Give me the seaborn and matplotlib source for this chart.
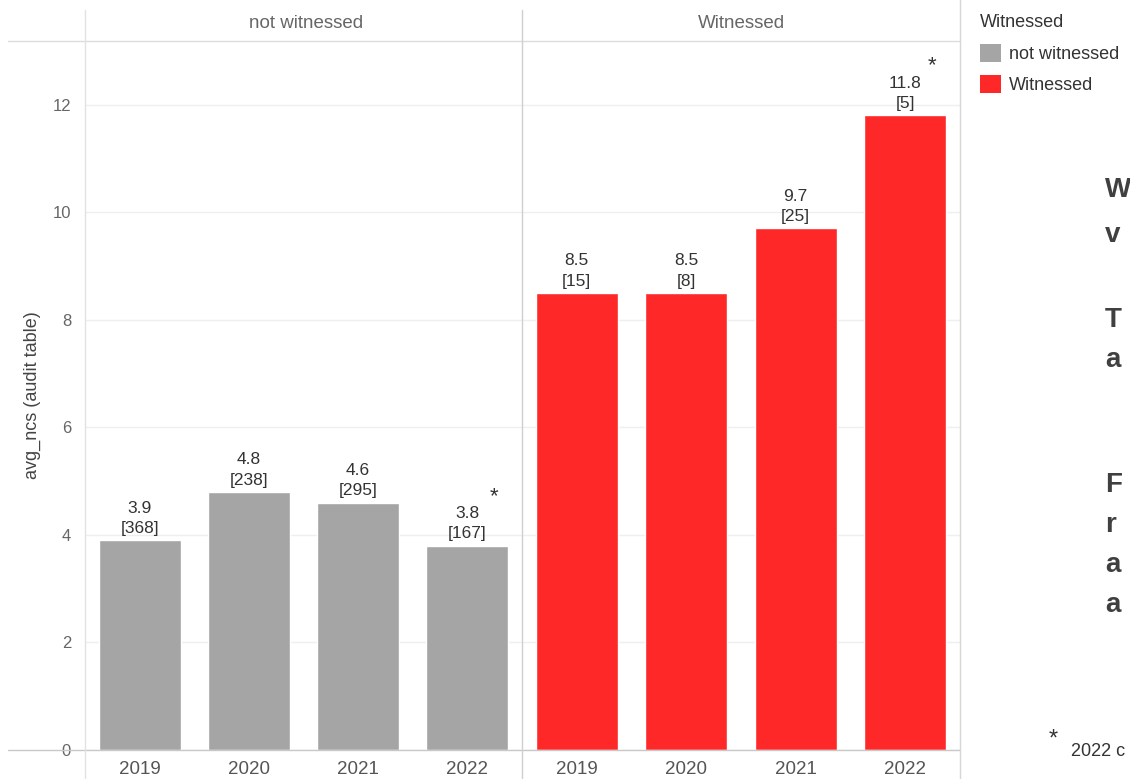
"""Average NCS per audit by year, split by witnessed / not witnessed."""

import matplotlib.pyplot as plt
import pandas as pd
import seaborn as sns
from matplotlib.lines import Line2D
from matplotlib.patches import Patch

years = ["2019", "2020", "2021", "2022"]
groups = ["not witnessed", "Witnessed"]
avg_not_witnessed = [3.9, 4.8, 4.6, 3.8]
avg_witnessed = [8.5, 8.5, 9.7, 11.8]
n_not_witnessed = [368, 238, 295, 167]
n_witnessed = [15, 8, 25, 5]
notes = ["", "", "", "*"]
side_letters = ["W", "v", "T", "a", "F", "r", "a", "a"]

GREY = "#a5a5a5"
RED = "#fe2828"
W, H = 1130, 779


def fx(x):
    return x / W


def fy(y):
    return 1 - y / H


def main() -> None:
    sns.set_theme(style="white")
    plt.rcParams["font.family"] = ["Liberation Sans", "DejaVu Sans"]

    df = pd.DataFrame({
        "year": years * 2,
        "group": [groups[0]] * 4 + [groups[1]] * 4,
        "avg_ncs": avg_not_witnessed + avg_witnessed,
        "n": n_not_witnessed + n_witnessed,
        "note": notes * 2,
    })
    palette = {groups[0]: GREY, groups[1]: RED}

    fig = plt.figure(figsize=(W / 100, H / 100), dpi=100)
    bottom, height = fy(750), (750 - 40) / H
    ax1 = fig.add_axes([fx(85), bottom, fx(437), height])
    ax2 = fig.add_axes([fx(522), bottom, fx(438), height], sharey=ax1)

    for ax, grp in zip([ax1, ax2], groups):
        sub = df[df["group"] == grp].reset_index(drop=True)
        sns.barplot(data=sub, x="year", y="avg_ncs", hue="group", palette=palette,
                    width=0.75, ax=ax, legend=False, saturation=1)
        ax.set_xlim(-0.5, 3.5)
        ax.set_ylim(0, 13.2)
        ax.set_yticks([0, 2, 4, 6, 8, 10, 12])
        ax.yaxis.grid(True, color="#efefef", linewidth=1)
        ax.set_axisbelow(True)
        for s in ax.spines.values():
            s.set_visible(False)
        ax.set_xlabel("")
        ax.set_ylabel("")
        ax.tick_params(axis="x", length=0, pad=8, labelsize=13.5, labelcolor="#555555")

        for bar, (_, row) in zip(ax.patches, sub.iterrows()):
            cx = bar.get_x() + bar.get_width() / 2
            top = bar.get_height()
            ax.annotate(f"{row['avg_ncs']:.1f}\n[{row['n']}]", (cx, top),
                        xytext=(0, 3), textcoords="offset points", ha="center",
                        va="bottom", fontsize=12.5, color="#333333", linespacing=1.45)
            if row["note"]:
                ax.annotate(row["note"], (cx, top), xytext=(19, 28),
                            textcoords="offset points", ha="center", va="bottom",
                            fontsize=16, color="#333333")

    ax1.tick_params(axis="y", length=5, color="#e6e6e6", labelsize=12,
                    labelcolor="#666666", pad=5)
    ax1.set_ylabel("avg_ncs (audit table)", fontsize=13, color="#444444", labelpad=8)
    ax2.tick_params(axis="y", left=False, labelleft=False)

    # facet header
    fig.text(fx(306), fy(24), groups[0], ha="center", va="center", fontsize=13.5, color="#666666")
    fig.text(fx(741), fy(24), groups[1], ha="center", va="center", fontsize=13.5, color="#666666")

    line_kw = dict(transform=fig.transFigure, linewidth=1)
    fig.add_artist(Line2D([fx(8), fx(960)], [fy(41), fy(41)], color="#dcdcdc", **line_kw))
    fig.add_artist(Line2D([fx(8), fx(960)], [fy(750), fy(750)], color="#c8c8c8", **line_kw))
    fig.add_artist(Line2D([fx(85), fx(85)], [fy(10), fy(779)], color="#e2e2e2", **line_kw))
    fig.add_artist(Line2D([fx(522), fx(522)], [fy(10), fy(779)], color="#cfcfcf", **line_kw))
    fig.add_artist(Line2D([fx(960), fx(960)], [fy(0), fy(779)], color="#d6d6d6", **line_kw))

    handles = [Patch(facecolor=palette[g], edgecolor="none", label=g) for g in groups]
    leg = fig.legend(handles=handles, title="Witnessed", loc="upper left",
                     bbox_to_anchor=(fx(980), fy(14)), frameon=False, fontsize=13,
                     title_fontsize=13, handlelength=1.15, handleheight=1.15,
                     handletextpad=0.45, labelspacing=0.7, borderaxespad=0,
                     borderpad=0)
    leg._legend_box.align = "left"
    for t in leg.get_texts():
        t.set_color("#333333")
    leg.get_title().set_color("#333333")

    # cropped side commentary
    ys = [190, 235, 320, 360, 485, 525, 565, 605]
    for letter, y in zip(side_letters, ys):
        fig.text(fx(1105), fy(y), letter, ha="left", va="center", fontsize=20,
                 fontweight="bold", color="#404040")
    fig.text(fx(1049), fy(740), "*", ha="left", va="center", fontsize=17, color="#333333")
    fig.text(fx(1071), fy(751), "2022 c", ha="left", va="center", fontsize=13, color="#333333")

    fig.savefig("out.png", dpi=100)
    plt.close(fig)


if __name__ == "__main__":
    main()
